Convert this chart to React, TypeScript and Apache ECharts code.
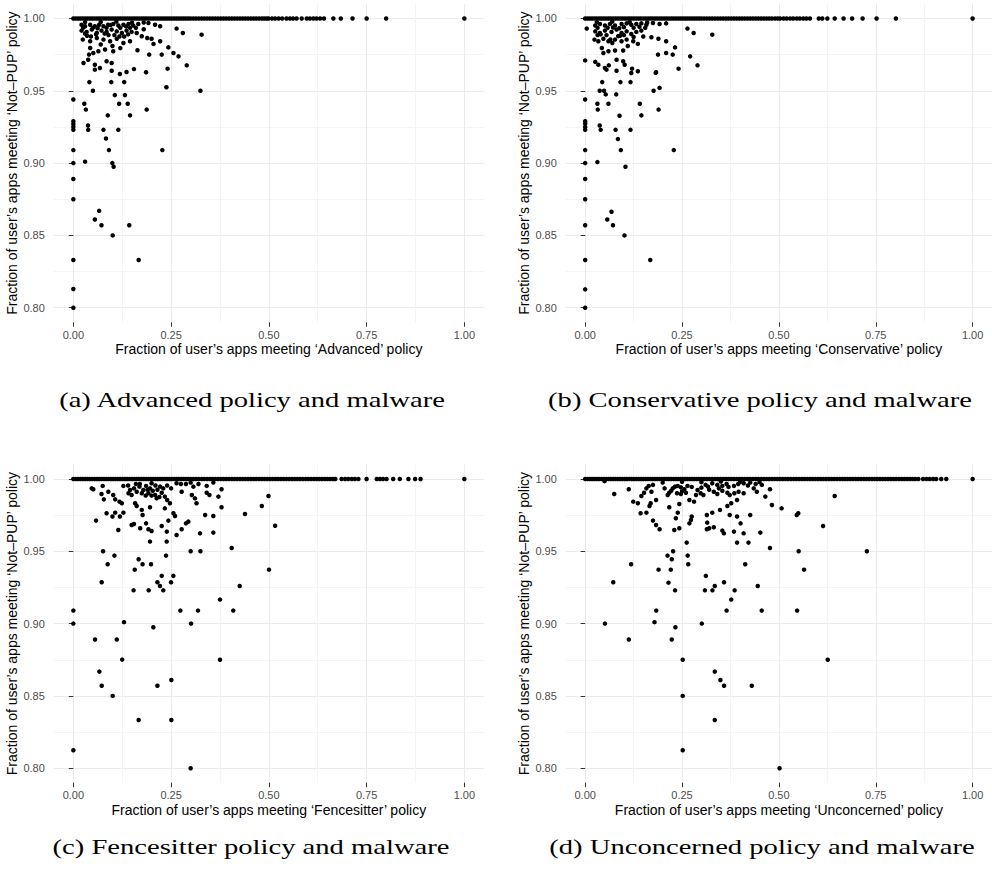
import React, { useEffect, useRef } from "react";
import * as echarts from "echarts";

// ---------- axis values ----------
const xTicks = [0, 0.25, 0.5, 0.75, 1];
const yTicks = [0.8, 0.85, 0.9, 0.95, 1];
const xMinor = [0.125, 0.375, 0.625, 0.875];
const yMinor = [0.825, 0.875, 0.925, 0.975];

const yTitle = "Fraction of user\u2019s apps meeting \u2018Not\u2013PUP\u2019 policy";
const xTitles = [
  "Fraction of user\u2019s apps meeting \u2018Advanced\u2019 policy",
  "Fraction of user\u2019s apps meeting \u2018Conservative\u2019 policy",
  "Fraction of user\u2019s apps meeting \u2018Fencesitter\u2019 policy",
  "Fraction of user\u2019s apps meeting \u2018Unconcerned\u2019 policy",
];
const captions = [
  "(a) Advanced policy and malware",
  "(b) Conservative policy and malware",
  "(c) Fencesitter policy and malware",
  "(d) Unconcerned policy and malware",
];

// ---------- (a) Advanced ----------
const advancedFullX = [
  0, 0.006, 0.012, 0.018, 0.024, 0.03, 0.036, 0.042, 0.048, 0.054, 0.06, 0.066, 0.072, 0.078, 0.084, 0.09, 0.096,
  0.102, 0.108, 0.114, 0.12, 0.126, 0.132, 0.138, 0.144, 0.15, 0.156, 0.162, 0.168, 0.174, 0.18, 0.186, 0.192, 0.198,
  0.204, 0.21, 0.216, 0.222, 0.228, 0.234, 0.24, 0.246, 0.252, 0.258, 0.264, 0.27, 0.276, 0.282, 0.288, 0.294, 0.3,
  0.307, 0.314, 0.321, 0.328, 0.335, 0.342, 0.349, 0.356, 0.363, 0.37, 0.377, 0.384, 0.391, 0.398, 0.405, 0.412,
  0.419, 0.426, 0.433, 0.44, 0.447, 0.454, 0.461, 0.468, 0.475, 0.482, 0.488, 0.494, 0.499, 0.508, 0.516, 0.525,
  0.534, 0.545, 0.554, 0.562, 0.571, 0.584, 0.597, 0.605, 0.614, 0.622, 0.631, 0.641, 0.665, 0.684, 0.714, 0.75,
  0.8, 1.0,
];
const advancedPoints = [
  [0, 0.944], [0, 0.929], [0, 0.927], [0, 0.925], [0, 0.923], [0, 0.909], [0, 0.9], [0, 0.889], [0, 0.875],
  [0, 0.833], [0, 0.813], [0, 0.8],
  [0.021, 0.9957], [0.03, 0.9946], [0.043, 0.9957], [0.055, 0.9946], [0.066, 0.9957], [0.077, 0.9946],
  [0.089, 0.9957], [0.102, 0.9962], [0.115, 0.9951], [0.128, 0.9957], [0.141, 0.9962], [0.153, 0.9951],
  [0.166, 0.9962], [0.192, 0.9969], [0.209, 0.9957], [0.222, 0.9946],
  [0.021, 0.9916], [0.034, 0.9907], [0.047, 0.9923], [0.06, 0.99], [0.072, 0.9916], [0.085, 0.9907],
  [0.098, 0.9923], [0.111, 0.9911], [0.124, 0.99], [0.136, 0.9916], [0.149, 0.9907], [0.162, 0.99],
  [0.175, 0.9877], [0.189, 0.9865], [0.2, 0.986], [0.264, 0.993], [0.28, 0.99], [0.328, 0.9888],
  [0.024, 0.9854], [0.043, 0.9842], [0.06, 0.9865], [0.077, 0.9854], [0.094, 0.9842], [0.111, 0.986],
  [0.128, 0.983], [0.145, 0.9842], [0.205, 0.9824], [0.222, 0.9842],
  [0.043, 0.9796], [0.051, 0.9761], [0.064, 0.9773], [0.081, 0.9785], [0.102, 0.9773], [0.164, 0.978],
  [0.194, 0.975], [0.226, 0.975], [0.243, 0.98], [0.256, 0.9761], [0.269, 0.9738],
  [0.026, 0.9692], [0.038, 0.9715], [0.055, 0.968], [0.055, 0.9646], [0.068, 0.9658], [0.085, 0.9704],
  [0.098, 0.9692], [0.098, 0.9639], [0.119, 0.9616], [0.136, 0.963], [0.155, 0.965], [0.186, 0.9628],
  [0.241, 0.9653], [0.29, 0.9676],
  [0.03, 0.9975], [0.07, 0.9975], [0.11, 0.9978], [0.15, 0.997], [0.18, 0.9972], [0.035, 0.988], [0.09, 0.9885],
  [0.13, 0.9875], [0.16, 0.9935], [0.18, 0.9925], [0.07, 0.982], [0.1, 0.981], [0.12, 0.9795], [0.04, 0.975],
  [0.025, 0.9935], [0.05, 0.9935], [0.062, 0.9932], [0.085, 0.9935], [0.095, 0.9955], [0.12, 0.9935],
  [0.135, 0.9945], [0.145, 0.9935], [0.058, 0.989], [0.08, 0.9895], [0.105, 0.9885], [0.118, 0.9875],
  [0.14, 0.989], [0.045, 0.9875], [0.03, 0.9895],
  [0.028, 0.941], [0.032, 0.937], [0.03, 0.901], [0.0375, 0.926], [0.038, 0.923], [0.041, 0.956], [0.05, 0.95],
  [0.055, 0.861], [0.066, 0.867], [0.072, 0.857], [0.077, 0.923], [0.0835, 0.917], [0.088, 0.933], [0.091, 0.909],
  [0.097, 0.956], [0.0997, 0.9], [0.103, 0.8975], [0.1006, 0.85], [0.106, 0.947], [0.117, 0.941], [0.115, 0.923],
  [0.13, 0.956], [0.132, 0.947], [0.139, 0.941], [0.145, 0.933], [0.143, 0.857], [0.167, 0.833], [0.1875, 0.937],
  [0.2276, 0.909], [0.238, 0.9524], [0.325, 0.95],
];

// ---------- (b) Conservative ----------
const conservativeFullX = [
  0, 0.006, 0.012, 0.018, 0.024, 0.03, 0.036, 0.042, 0.048, 0.054, 0.06, 0.066, 0.072, 0.078, 0.084, 0.09, 0.096,
  0.102, 0.108, 0.114, 0.12, 0.126, 0.132, 0.138, 0.144, 0.15, 0.156, 0.162, 0.168, 0.174, 0.18, 0.186, 0.192, 0.198,
  0.204, 0.21, 0.216, 0.222, 0.228, 0.234, 0.24, 0.246, 0.252, 0.258, 0.264, 0.27, 0.276, 0.282, 0.288, 0.294, 0.3,
  0.307, 0.314, 0.321, 0.328, 0.335, 0.342, 0.349, 0.356, 0.363, 0.37, 0.377, 0.384, 0.391, 0.398, 0.405, 0.412,
  0.419, 0.426, 0.433, 0.44, 0.447, 0.454, 0.461, 0.468, 0.475, 0.482, 0.49, 0.497, 0.503, 0.512, 0.52, 0.529,
  0.537, 0.546, 0.554, 0.563, 0.571, 0.58, 0.603, 0.612, 0.625, 0.644, 0.667, 0.689, 0.716, 0.752, 0.802, 1.0,
];
const conservativePoints = [
  [0, 0.971], [0, 0.944], [0, 0.929], [0, 0.9274], [0, 0.925], [0, 0.923], [0, 0.909], [0, 0.9], [0, 0.889],
  [0, 0.875], [0, 0.857], [0, 0.833], [0, 0.8127], [0, 0.8], [0.004, 0.993],
  [0.026, 0.9951], [0.038, 0.9962], [0.051, 0.9951], [0.064, 0.9962], [0.077, 0.9951], [0.094, 0.9962],
  [0.107, 0.9966], [0.119, 0.9957], [0.132, 0.9962], [0.145, 0.9966], [0.158, 0.9957], [0.175, 0.9969],
  [0.192, 0.9962], [0.209, 0.9966],
  [0.026, 0.9911], [0.038, 0.99], [0.051, 0.9916], [0.068, 0.9907], [0.081, 0.9923], [0.094, 0.99],
  [0.107, 0.9911], [0.119, 0.9893], [0.132, 0.9907], [0.145, 0.9916], [0.171, 0.987], [0.189, 0.986],
  [0.264, 0.993], [0.28, 0.99], [0.328, 0.9888],
  [0.024, 0.9854], [0.034, 0.9842], [0.047, 0.986], [0.06, 0.9842], [0.077, 0.9854], [0.094, 0.9842],
  [0.107, 0.9854], [0.124, 0.9842], [0.136, 0.9824], [0.209, 0.9842],
  [0.043, 0.9796], [0.047, 0.9761], [0.06, 0.9773], [0.077, 0.9778], [0.098, 0.9778], [0.188, 0.975],
  [0.209, 0.9761], [0.226, 0.975], [0.232, 0.98], [0.271, 0.9738],
  [0.026, 0.97], [0.034, 0.968], [0.051, 0.9658], [0.061, 0.9676], [0.055, 0.9646], [0.081, 0.9715],
  [0.098, 0.9704], [0.081, 0.9639], [0.102, 0.968], [0.121, 0.9653], [0.119, 0.9623], [0.136, 0.9635],
  [0.183, 0.9628], [0.241, 0.9653], [0.29, 0.9676],
  [0.03, 0.9975], [0.07, 0.9978], [0.115, 0.9975], [0.16, 0.9972], [0.04, 0.989], [0.09, 0.988], [0.15, 0.9875],
  [0.07, 0.983], [0.11, 0.981],
  [0.032, 0.9935], [0.058, 0.9935], [0.072, 0.9938], [0.088, 0.9932], [0.1, 0.994], [0.125, 0.9935],
  [0.14, 0.9942], [0.155, 0.9935], [0.055, 0.9885], [0.085, 0.9878], [0.1, 0.9885], [0.125, 0.9872],
  [0.065, 0.9855], [0.032, 0.9885],
  [0.0316, 0.941], [0.0324, 0.937], [0.0316, 0.9007], [0.0375, 0.926], [0.04, 0.923], [0.0375, 0.95],
  [0.044, 0.956], [0.0486, 0.95], [0.053, 0.9475], [0.06, 0.941], [0.057, 0.861], [0.068, 0.8664],
  [0.0717, 0.857], [0.0785, 0.923], [0.08, 0.9475], [0.0845, 0.9166], [0.0887, 0.9327], [0.091, 0.956],
  [0.092, 0.909], [0.104, 0.8975], [0.1015, 0.85], [0.117, 0.923], [0.117, 0.956], [0.141, 0.941],
  [0.145, 0.933], [0.168, 0.833], [0.1766, 0.95], [0.182, 0.9624], [0.1894, 0.937], [0.192, 0.952],
  [0.2287, 0.909],
];

// ---------- (c) Fencesitter ----------
const fencesitterFullX = [
  0, 0.006, 0.012, 0.018, 0.024, 0.03, 0.036, 0.042, 0.048, 0.054, 0.06, 0.066, 0.072, 0.078, 0.084, 0.09, 0.096,
  0.102, 0.108, 0.114, 0.12, 0.126, 0.132, 0.138, 0.144, 0.15, 0.156, 0.162, 0.168, 0.174, 0.18, 0.186, 0.192, 0.198,
  0.204, 0.21, 0.216, 0.222, 0.228, 0.234, 0.24, 0.246, 0.252, 0.258, 0.264, 0.27, 0.276, 0.282, 0.288, 0.294, 0.3,
  0.307, 0.314, 0.321, 0.328, 0.335, 0.342, 0.349, 0.356, 0.363, 0.37, 0.377, 0.384, 0.391, 0.398, 0.405, 0.412,
  0.419, 0.426, 0.433, 0.44, 0.447, 0.454, 0.461, 0.468, 0.475, 0.482, 0.489, 0.496, 0.503, 0.51, 0.517, 0.524,
  0.531, 0.538, 0.545, 0.552, 0.559, 0.566, 0.573, 0.58, 0.587, 0.594, 0.601, 0.608, 0.615, 0.622, 0.629, 0.636,
  0.643, 0.65, 0.657, 0.664, 0.67, 0.686, 0.695, 0.703, 0.712, 0.72, 0.729, 0.75, 0.776, 0.784, 0.792, 0.801,
  0.818, 0.835, 0.857, 0.874, 0.888, 1.0,
];
const fencesitterPoints = [
  [0, 0.909], [0, 0.9], [0, 0.8124],
  [0.047, 0.9935], [0.051, 0.9929], [0.075, 0.9952], [0.072, 0.9896], [0.078, 0.9859], [0.0895, 0.9912],
  [0.102, 0.9889], [0.107, 0.9859], [0.118, 0.9843], [0.124, 0.9832], [0.128, 0.9952], [0.141, 0.9901],
  [0.145, 0.9924], [0.149, 0.9889], [0.155, 0.9935], [0.162, 0.9912], [0.169, 0.9947], [0.175, 0.9901],
  [0.179, 0.9924], [0.186, 0.9952], [0.192, 0.9901], [0.196, 0.9935], [0.203, 0.9919], [0.209, 0.9889],
  [0.213, 0.9866], [0.222, 0.9947], [0.226, 0.9905], [0.23, 0.9935], [0.234, 0.9878], [0.24, 0.9855],
  [0.247, 0.9832], [0.264, 0.997], [0.275, 0.9965], [0.288, 0.9965], [0.307, 0.9947], [0.341, 0.9952],
  [0.358, 0.9975], [0.379, 0.9929], [0.277, 0.9912], [0.303, 0.9889], [0.311, 0.9866], [0.315, 0.9832],
  [0.341, 0.9905], [0.348, 0.9889], [0.371, 0.9878], [0.158, 0.9832], [0.162, 0.9813], [0.196, 0.9804],
  [0.234, 0.9797], [0.256, 0.9763], [0.26, 0.9744], [0.379, 0.9804], [0.482, 0.9813], [0.499, 0.9882],
  [0.439, 0.9758], [0.337, 0.9751], [0.358, 0.9744], [0.058, 0.9712], [0.085, 0.9763], [0.1, 0.974],
  [0.107, 0.9767], [0.119, 0.974], [0.128, 0.9767], [0.175, 0.9786], [0.177, 0.9751], [0.149, 0.9682],
  [0.155, 0.9689], [0.171, 0.9659], [0.186, 0.9693], [0.192, 0.9652], [0.2, 0.964], [0.226, 0.9675],
  [0.243, 0.9712], [0.239, 0.9636], [0.264, 0.9613], [0.277, 0.9652], [0.288, 0.9693], [0.294, 0.9705],
  [0.115, 0.9647], [0.324, 0.9624], [0.358, 0.9629], [0.516, 0.9677],
  [0.17, 0.9965], [0.2, 0.997], [0.215, 0.9925], [0.185, 0.9885], [0.25, 0.9935], [0.3, 0.9975], [0.32, 0.9965],
  [0.14, 0.9955], [0.16, 0.9965], [0.19, 0.9925], [0.21, 0.9955], [0.24, 0.9955], [0.2, 0.9885], [0.22, 0.9875],
  [0.0554, 0.889], [0.0665, 0.8668], [0.0725, 0.857], [0.0725, 0.9286], [0.076, 0.95], [0.0878, 0.941],
  [0.1006, 0.85], [0.105, 0.947], [0.111, 0.889], [0.125, 0.8751], [0.1296, 0.901], [0.154, 0.923],
  [0.157, 0.9373], [0.167, 0.8334], [0.167, 0.9445], [0.177, 0.941], [0.1927, 0.923], [0.196, 0.9567],
  [0.1986, 0.941], [0.2046, 0.8975], [0.215, 0.9286], [0.215, 0.857], [0.2216, 0.926], [0.226, 0.933],
  [0.23, 0.923], [0.237, 0.947], [0.2387, 0.9567], [0.2498, 0.9286], [0.2506, 0.861], [0.2506, 0.8334],
  [0.2558, 0.933], [0.2737, 0.909], [0.3, 0.95], [0.301, 0.9], [0.3188, 0.909], [0.325, 0.95], [0.375, 0.9166],
  [0.375, 0.875], [0.405, 0.9523], [0.409, 0.909], [0.4254, 0.926], [0.5004, 0.9373], [0.3, 0.8],
];

// ---------- (d) Unconcerned ----------
const unconcernedFullX = [
  0, 0.006, 0.012, 0.018, 0.024, 0.03, 0.036, 0.042, 0.048, 0.054, 0.06, 0.066, 0.072, 0.078, 0.084, 0.09, 0.096,
  0.102, 0.108, 0.114, 0.12, 0.126, 0.132, 0.138, 0.144, 0.15, 0.156, 0.162, 0.168, 0.174, 0.18, 0.186, 0.192, 0.198,
  0.204, 0.21, 0.216, 0.222, 0.228, 0.234, 0.24, 0.246, 0.252, 0.258, 0.264, 0.27, 0.276, 0.282, 0.288, 0.294, 0.3,
  0.307, 0.314, 0.321, 0.328, 0.335, 0.342, 0.349, 0.356, 0.363, 0.37, 0.377, 0.384, 0.391, 0.398, 0.405, 0.412,
  0.419, 0.426, 0.433, 0.44, 0.447, 0.454, 0.461, 0.468, 0.475, 0.482, 0.489, 0.496, 0.503, 0.51, 0.517, 0.524,
  0.531, 0.538, 0.545, 0.552, 0.559, 0.566, 0.573, 0.58, 0.587, 0.594, 0.601, 0.608, 0.615, 0.622, 0.629, 0.636,
  0.643, 0.65, 0.657, 0.664, 0.67, 0.677, 0.684, 0.691, 0.698, 0.705, 0.712, 0.719, 0.726, 0.733, 0.74, 0.747,
  0.754, 0.761, 0.768, 0.775, 0.782, 0.789, 0.796, 0.803, 0.81, 0.817, 0.824, 0.831, 0.838, 0.845, 0.852, 0.86,
  0.872, 0.881, 0.889, 0.898, 0.906, 0.919, 0.932, 1.0,
];
const unconcernedPoints = [
  [0.075, 0.9896], [0.1125, 0.9929], [0.124, 0.9843], [0.136, 0.9832], [0.145, 0.9882], [0.152, 0.9905],
  [0.158, 0.9935], [0.164, 0.9952], [0.171, 0.9912], [0.175, 0.9959], [0.169, 0.9832], [0.166, 0.9813],
  [0.183, 0.9855], [0.143, 0.9763], [0.158, 0.9767], [0.175, 0.9712], [0.183, 0.9682], [0.192, 0.9652],
  [0.213, 0.9889], [0.217, 0.9905], [0.222, 0.9919], [0.226, 0.9935], [0.232, 0.9947], [0.239, 0.9952],
  [0.247, 0.9942], [0.256, 0.9929], [0.264, 0.9952], [0.237, 0.9901], [0.247, 0.9896], [0.26, 0.9905],
  [0.269, 0.9855], [0.281, 0.9843], [0.286, 0.9889], [0.29, 0.9924], [0.298, 0.9901], [0.305, 0.9889],
  [0.311, 0.9959], [0.317, 0.9947], [0.328, 0.997], [0.341, 0.9959], [0.354, 0.9952], [0.365, 0.9965],
  [0.384, 0.9952], [0.396, 0.9912], [0.409, 0.997], [0.426, 0.9975], [0.435, 0.9935], [0.456, 0.9959],
  [0.477, 0.9929], [0.332, 0.9912], [0.341, 0.9896], [0.354, 0.9919], [0.367, 0.9905], [0.373, 0.9889],
  [0.385, 0.9901], [0.392, 0.9855], [0.409, 0.9901], [0.443, 0.9912], [0.465, 0.9878], [0.482, 0.982],
  [0.507, 0.9797], [0.546, 0.9751], [0.55, 0.9763], [0.217, 0.9804], [0.239, 0.9767], [0.243, 0.9827],
  [0.234, 0.9728], [0.23, 0.9647], [0.243, 0.9659], [0.269, 0.9693], [0.273, 0.9716], [0.275, 0.974],
  [0.314, 0.9751], [0.328, 0.9767], [0.348, 0.9786], [0.367, 0.9813], [0.377, 0.9832], [0.373, 0.9751],
  [0.392, 0.974], [0.401, 0.9693], [0.426, 0.9751], [0.315, 0.9698], [0.314, 0.9652], [0.32, 0.9659],
  [0.332, 0.9666], [0.354, 0.9643], [0.358, 0.9624], [0.384, 0.9636], [0.409, 0.9624], [0.452, 0.9629],
  [0.05, 0.9985], [0.2, 0.9975], [0.25, 0.998], [0.3, 0.9978], [0.35, 0.9982], [0.4, 0.998], [0.45, 0.9978],
  [0.205, 0.9935], [0.25, 0.9915], [0.275, 0.9945], [0.3, 0.994], [0.32, 0.9925], [0.345, 0.9935],
  [0.37, 0.9945], [0.395, 0.9965], [0.42, 0.9955], [0.44, 0.9965],
  [0.051, 0.9], [0.0725, 0.9286], [0.1186, 0.941], [0.1126, 0.889], [0.1894, 0.9373], [0.1834, 0.909],
  [0.179, 0.901], [0.2125, 0.947], [0.215, 0.9283], [0.221, 0.9373], [0.2235, 0.9445], [0.2235, 0.889],
  [0.227, 0.95], [0.232, 0.923], [0.233, 0.8975], [0.2517, 0.875], [0.2517, 0.85], [0.2517, 0.8124],
  [0.262, 0.956], [0.2645, 0.947], [0.266, 0.941], [0.301, 0.9], [0.309, 0.923], [0.3114, 0.933],
  [0.3285, 0.923], [0.3345, 0.926], [0.3345, 0.8668], [0.3345, 0.8334], [0.349, 0.861], [0.3584, 0.857],
  [0.3584, 0.9286], [0.365, 0.909], [0.377, 0.9166], [0.3857, 0.923], [0.392, 0.956], [0.413, 0.941],
  [0.4215, 0.956], [0.4454, 0.926], [0.4556, 0.909], [0.43, 0.857], [0.477, 0.9523], [0.5017, 0.8],
  [0.547, 0.909], [0.551, 0.95], [0.565, 0.9373], [0.614, 0.9675], [0.626, 0.875], [0.644, 0.9882],
  [0.727, 0.95],
];

const fullXs = [advancedFullX, conservativeFullX, fencesitterFullX, unconcernedFullX];
const pointSets = [advancedPoints, conservativePoints, fencesitterPoints, unconcernedPoints];

// ---------- layout (pixels) ----------
const gridBoxes = [
  { left: 53.8, top: 4.0 },
  { left: 565.8, top: 4.0 },
  { left: 53.8, top: 464.5 },
  { left: 565.8, top: 464.5 },
];
const GRID_W = 430.1;
const GRID_H = 318.2;
const captionPos = [
  { x: 252, y: 400 },
  { x: 760, y: 400 },
  { x: 251, y: 847 },
  { x: 762, y: 847 },
];

const SANS = '"Liberation Sans", Arial, Helvetica, sans-serif';
const SERIF = '"Liberation Serif", "Times New Roman", serif';

function buildOption() {
  const grid: any[] = [];
  const xAxis: any[] = [];
  const yAxis: any[] = [];
  const series: any[] = [];
  for (let i = 0; i < 4; i++) {
    grid.push({ left: gridBoxes[i].left, top: gridBoxes[i].top, width: GRID_W, height: GRID_H, containLabel: false });
    xAxis.push({
      type: "value",
      gridIndex: i,
      min: -0.05,
      max: 1.05,
      position: "bottom",
      axisLine: { show: false },
      axisTick: { show: true, length: 4.5, customValues: xTicks, lineStyle: { color: "#333333", width: 1 } },
      axisLabel: {
        customValues: xTicks,
        formatter: (v: number) => v.toFixed(2),
        color: "#4d4d4d",
        fontSize: 11,
        fontFamily: SANS,
        margin: 7,
      },
      splitLine: { show: true, lineStyle: { color: "#ebebeb", width: 1 } },
      name: xTitles[i],
      nameLocation: "middle",
      nameGap: 20,
      nameTextStyle: { color: "#000", fontSize: 14, fontFamily: SANS },
    });
    xAxis.push({
      type: "value",
      gridIndex: i,
      min: -0.05,
      max: 1.05,
      position: "top",
      axisLine: { show: false },
      axisTick: { show: false, customValues: xMinor },
      axisLabel: { show: false, customValues: xMinor },
      splitLine: { show: true, lineStyle: { color: "#f4f4f4", width: 1 } },
    });
    yAxis.push({
      type: "value",
      gridIndex: i,
      min: 0.79,
      max: 1.01,
      position: "left",
      axisLine: { show: false },
      axisTick: { show: true, length: 4.5, customValues: yTicks, lineStyle: { color: "#333333", width: 1 } },
      axisLabel: {
        customValues: yTicks,
        formatter: (v: number) => v.toFixed(2),
        color: "#4d4d4d",
        fontSize: 11,
        fontFamily: SANS,
        margin: 9,
      },
      splitLine: { show: true, lineStyle: { color: "#ebebeb", width: 1 } },
      name: yTitle,
      nameLocation: "middle",
      nameGap: 30,
      nameTextStyle: { color: "#000", fontSize: 14, fontFamily: SANS },
    });
    yAxis.push({
      type: "value",
      gridIndex: i,
      min: 0.79,
      max: 1.01,
      position: "right",
      axisLine: { show: false },
      axisTick: { show: false, customValues: yMinor },
      axisLabel: { show: false, customValues: yMinor },
      splitLine: { show: true, lineStyle: { color: "#f4f4f4", width: 1 } },
    });
    const data = fullXs[i].map((x) => [x, 1.0]).concat(pointSets[i]);
    series.push({
      type: "scatter",
      xAxisIndex: i * 2,
      yAxisIndex: i * 2,
      data,
      symbol: "circle",
      symbolSize: 4.5,
      itemStyle: { color: "#000000", opacity: 1 },
      silent: true,
      z: 5,
    });
  }
  const graphic = captions.map((t, i) => ({
    type: "text",
    x: captionPos[i].x,
    y: captionPos[i].y,
    scaleX: 1.3,
    style: {
      text: t,
      fill: "#000",
      fontSize: 22,
      fontFamily: SERIF,
      textAlign: "center",
      textVerticalAlign: "middle",
    },
  }));
  return {
    animation: false,
    backgroundColor: "#ffffff",
    grid,
    xAxis,
    yAxis,
    series,
    graphic,
  };
}

export default function App() {
  const ref = useRef<HTMLDivElement | null>(null);
  useEffect(() => {
    if (!ref.current) return;
    const chart = echarts.init(ref.current, null, { renderer: "svg" });
    chart.setOption(buildOption() as any);
    return () => {
      chart.dispose();
    };
  }, []);
  return (
    <div
      ref={ref}
      style={{ position: "absolute", left: 0, top: 0, width: 992, height: 877, background: "#fff" }}
    />
  );
}
